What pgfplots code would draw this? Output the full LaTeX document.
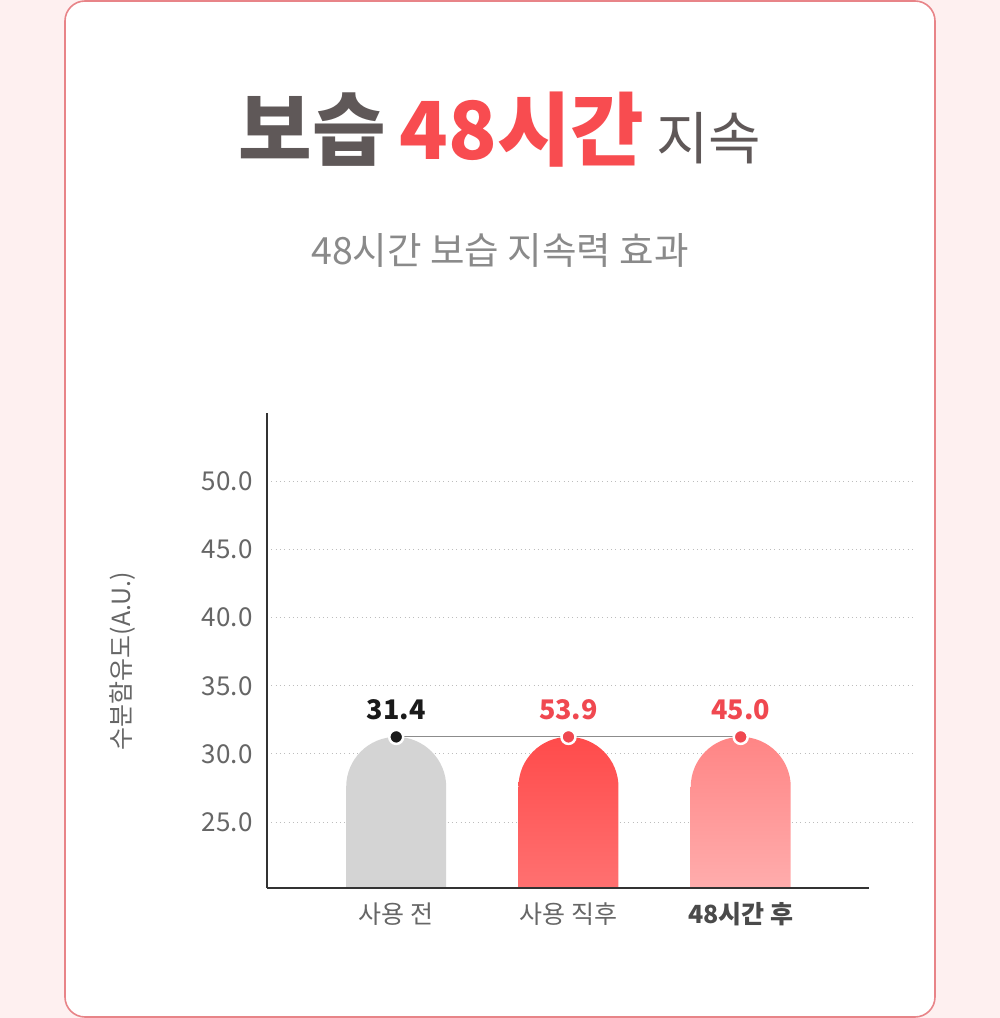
\documentclass[border=0pt]{standalone}
\usepackage{pgfplots}
\pgfplotsset{compat=1.18}
\usepackage{fontspec}
\setmainfont{Noto Sans CJK KR}

\definecolor{pagebg}{HTML}{FEF0F0}
\definecolor{cardline}{HTML}{E88488}
\definecolor{titlegray}{HTML}{5F5858}
\definecolor{titlered}{HTML}{F84C50}
\definecolor{subgray}{HTML}{8A8A8A}
\definecolor{tickgray}{HTML}{666666}
\definecolor{ticklabdark}{HTML}{4A4A4A}
\definecolor{axisdark}{HTML}{333333}
\definecolor{gridgray}{HTML}{BDBDBD}
\definecolor{linkgray}{HTML}{8C8C8C}
\definecolor{barA}{HTML}{D4D4D4}
\definecolor{barBtop}{HTML}{FF4B4B}
\definecolor{barBbot}{HTML}{FF8282}
\definecolor{barCtop}{HTML}{FF8585}
\definecolor{barCbot}{HTML}{FFBFBF}
\definecolor{dotdark}{HTML}{1A1A1A}
\definecolor{dotred}{HTML}{F04850}

\pgfplotsset{
  valbar/.style={ybar, bar shift=0pt, bar width=100pt, draw=none, rounded corners=50pt,
    nodes near coords, point meta=explicit,
    every node near coord/.append style={anchor=base, yshift=17pt,
      font=\fontsize{27}{30}\selectfont\bfseries,
      /pgf/number format/fixed, /pgf/number format/fixed zerofill,
      /pgf/number format/precision=1, /pgf/number format/assume math mode=true}},
}

\begin{document}
\begin{tikzpicture}[x=1pt,y=1pt]
% page and card
\fill[pagebg] (0,0) rectangle (1000,1018);
\draw[cardline, line width=1.6pt, fill=white, rounded corners=20pt] (65,1) rectangle (935,1017);

% titles
\node[anchor=base] at (500,858) {%
  {\fontsize{80}{86}\selectfont\bfseries\color{titlegray}보습}\hspace{14pt}%
  {\fontsize{80}{86}\selectfont\bfseries\color{titlered}48시간}\hspace{12pt}%
  {\fontsize{57}{62}\selectfont\color{titlegray}지속}};
\node[anchor=base, text=subgray] at (500,753) {\fontsize{37.5}{40}\selectfont 48시간 보습 지속력 효과};

% frame: grid, ticks, labels
\begin{axis}[
  at={(267pt,130pt)}, anchor=south west,
  scale only axis, width=646pt, height=475pt,
  xmin=-0.75, xmax=3.0, ymin=20.17, ymax=55,
  axis y line*=left, axis x line*=bottom,
  x axis line style={draw=none},
  y axis line style={axisdark, line width=2pt, -},
  xtick={0,1,2},
  xticklabels={사용 전, 사용 직후, {\bfseries\color{ticklabdark}48시간 후}},
  xticklabel style={font=\fontsize{25}{28}\selectfont, text=tickgray, yshift=-11pt},
  ytick={25,30,35,40,45,50},
  yticklabel style={font=\fontsize{26}{28}\selectfont, text=tickgray, xshift=-11pt,
    /pgf/number format/fixed, /pgf/number format/fixed zerofill,
    /pgf/number format/precision=1, /pgf/number format/assume math mode=true},
  major tick length=0pt,
  ymajorgrids,
  grid style={gridgray, line width=1pt, dash pattern=on 1pt off 3.3pt},
  ylabel={수분함유도(A.U.)},
  every axis y label/.style={at={(axis cs:-1.586,36.8)}, rotate=90, anchor=center,
    font=\fontsize{25}{28}\selectfont, text=tickgray},
]
\end{axis}

% bars, link line, dots and values; the axis reaches below the frame so the
% square bar bottoms are cut at the frame's lower edge
\begin{scope}
\clip (267,130) rectangle (913,605);
\begin{axis}[
  at={(267pt,59.5pt)}, anchor=south west,
  scale only axis, width=646pt, height=545.5pt,
  xmin=-0.75, xmax=3.0, ymin=15, ymax=55,
  hide axis,
]
% drawn height, label value in brackets
\addplot[valbar, fill=barA, nodes near coords style={text=dotdark}]
  coordinates {(0,31.25) [31.4]};
\addplot[valbar, top color=barBtop, bottom color=barBbot, nodes near coords style={text=dotred}]
  coordinates {(1,31.25) [53.9]};
\addplot[valbar, top color=barCtop, bottom color=barCbot, nodes near coords style={text=dotred}]
  coordinates {(2,31.25) [45.0]};
\addplot[linkgray, line width=1.2pt, no markers] coordinates {(0,31.25) (1,31.25) (2,31.25)};
\addplot[only marks, mark=*, mark size=7pt,
  mark options={fill=dotdark, draw=white, line width=2.5pt}] coordinates {(0,31.25)};
\addplot[only marks, mark=*, mark size=7pt,
  mark options={fill=dotred, draw=white, line width=2.5pt}] coordinates {(1,31.25) (2,31.25)};
\end{axis}
\end{scope}

\draw[axisdark, line width=2.5pt] (267,130) -- (869,130);
\end{tikzpicture}
\end{document}
